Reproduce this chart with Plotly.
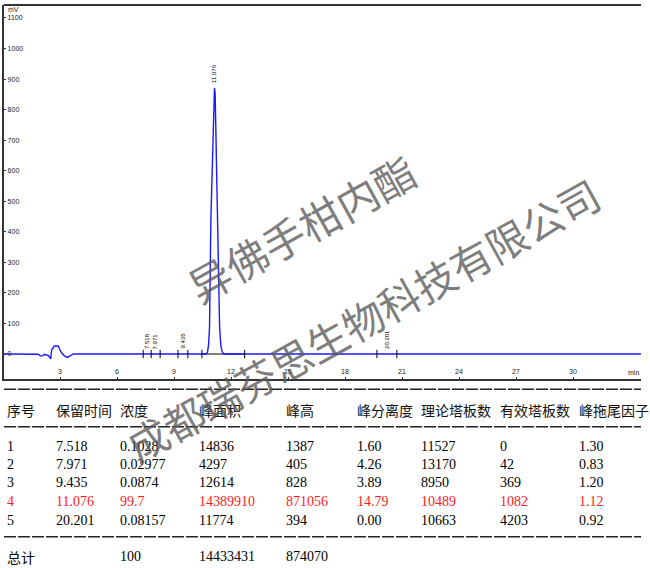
import plotly.graph_objects as go

# ---------------- data ----------------
# chromatogram trace (time in min, signal in mV)
sig_t = [0.0, 1.70, 1.86, 1.95, 2.09, 2.18, 2.39, 2.51, 2.56, 2.70, 2.91, 2.96, 3.09, 3.23, 3.39, 3.53, 3.70,
         10.70, 10.76, 10.82, 10.87, 10.94, 11.03, 11.095, 11.13, 11.165, 11.235, 11.325, 11.40, 11.46, 11.53, 11.62,
         33.6]
sig_mv = [0, 0, -1, -6, -6, -1, -5, -16, 13, 26, 26, 18, 3, -6, -11, -6, 0,
          0, 5, 30, 89, 439, 635, 853, 871, 853, 635, 439, 89, 30, 8, 0,
          0]

# integration marks on the baseline (min)
mark_t = [7.38, 7.80, 8.27, 9.21, 9.73, 10.47, 12.72, 19.68, 20.73]
# integration baseline under the main peak (min)
base_seg_t = [10.47, 12.72]

# peak labels: retention time text, position (min), apex (mV)
peak_lbl = ["7.518", "7.971", "9.435", "11.076", "20.201"]
peak_lbl_t = [7.58, 8.02, 9.45, 11.13, 20.18]
peak_lbl_mv = [0, 0, 0, 871, 0]

x_ticks = [3, 6, 9, 12, 15, 18, 21, 24, 27, 30]
y_ticks = [0, 100, 200, 300, 400, 500, 600, 700, 800, 900, 1000, 1100]

# result table
headers = ["序号", "保留时间", "浓度", "峰面积", "峰高", "峰分离度", "理论塔板数", "有效塔板数", "峰拖尾因子"]
peak_no = ["1", "2", "3", "4", "5"]
ret_time = ["7.518", "7.971", "9.435", "11.076", "20.201"]
conc = ["0.1028", "0.02977", "0.0874", "99.7", "0.08157"]
area = ["14836", "4297", "12614", "14389910", "11774"]
height = ["1387", "405", "828", "871056", "394"]
resolution = ["1.60", "4.26", "3.89", "14.79", "0.00"]
plates = ["11527", "13170", "8950", "10489", "10663"]
eff_plates = ["0", "42", "369", "1082", "4203"]
tailing = ["1.30", "0.83", "1.20", "1.12", "0.92"]
totals = ["总计", "", "100", "14433431", "874070"]
highlight_row = 3  # 0-based index of the red row

watermark1 = "异佛手柑内酯"
watermark2 = "成都瑞芬思生物科技有限公司"

# ---------------- layout helpers ----------------
W, H = 650, 568
def px(x):
    return x / W
def py(y):
    return 1 - y / H

PL, PR, PT, PB = 4, 641, 5, 379  # plot frame in pixels
AX = "#333333"

fig = go.Figure()

# integration baseline (black) under the blue trace
fig.add_trace(go.Scatter(x=base_seg_t, y=[0, 0], mode="lines",
                         line=dict(color="black", width=1.2), hoverinfo="skip"))
# chromatogram
fig.add_trace(go.Scatter(x=sig_t, y=sig_mv, mode="lines",
                         line=dict(color="#1a1aff", width=1.4), hoverinfo="skip"))
# integration marks
fig.add_trace(go.Scatter(x=mark_t, y=[0] * len(mark_t), mode="markers",
                         marker=dict(symbol="line-ns", size=6,
                                     line=dict(color="black", width=1)),
                         hoverinfo="skip"))

annotations = []
for lbl, t, mv in zip(peak_lbl, peak_lbl_t, peak_lbl_mv):
    annotations.append(dict(x=t, y=mv, xref="x", yref="y", text=lbl, showarrow=False,
                            textangle=-90, xanchor="center", yanchor="bottom", yshift=3,
                            font=dict(size=6, color="black", family="Liberation Sans")))

annotations.append(dict(x=px(6), y=py(9), xref="paper", yref="paper", text="mV",
                        showarrow=False, xanchor="left", yanchor="middle",
                        font=dict(size=7, color="#222", family="Liberation Sans")))
annotations.append(dict(x=px(633), y=py(372), xref="paper", yref="paper", text="min",
                        showarrow=False, xanchor="center", yanchor="middle",
                        font=dict(size=7, color="#222", family="Liberation Sans")))

# table
col_x = [5, 54, 118, 197.5, 283.5, 355, 419, 498, 577]
row_y = [446, 464.3, 482.3, 501.7, 520]
header_y = 410
total_y = 556.7
TFONT = "Liberation Serif, Noto Sans CJK SC"

def cell(x, y, text, color="black", family=TFONT, size=14):
    annotations.append(dict(x=px(x), y=py(y), xref="paper", yref="paper", text=text,
                            showarrow=False, xanchor="left", yanchor="middle",
                            font=dict(size=size, color=color, family=family)))

for cx, h in zip(col_x, headers):
    cell(cx, header_y, h, color="#111", family="Noto Sans CJK SC", size=14)

cols = [peak_no, ret_time, conc, area, height, resolution, plates, eff_plates, tailing]
for r in range(len(peak_no)):
    color = "#ff1a1a" if r == highlight_row else "black"
    for cx, col in zip(col_x, cols):
        cell(cx, row_y[r], col[r], color=color)

tot_cols = [0, 1, 2, 3, 4]
for ci, txt in zip(tot_cols, totals):
    if txt:
        fam = "Noto Sans CJK SC" if ci == 0 else TFONT
        cell(col_x[ci], total_y, txt, family=fam)

# watermarks
annotations.append(dict(x=px(301), y=py(227), xref="paper", yref="paper", text=watermark1,
                        showarrow=False, textangle=-29, xanchor="center", yanchor="middle",
                        font=dict(size=42, color="rgba(90,90,90,0.78)", family="Noto Sans CJK SC")))
annotations.append(dict(x=px(362), y=py(319), xref="paper", yref="paper", text=watermark2,
                        showarrow=False, textangle=-29, xanchor="center", yanchor="middle",
                        font=dict(size=41, color="rgba(90,90,90,0.78)", family="Noto Sans CJK SC")))

shapes = [
    dict(type="line", xref="paper", yref="paper", x0=px(PL), x1=px(PR), y0=py(PT), y1=py(PT),
         line=dict(color=AX, width=2)),
]
for y in [389.3, 426.7, 536.7]:
    shapes.append(dict(type="line", xref="paper", yref="paper", x0=px(PL), x1=px(PR),
                       y0=py(y), y1=py(y), line=dict(color="#222", width=1.6, dash="12px,2px")))

fig.update_layout(
    width=W, height=H, margin=dict(l=0, r=0, t=0, b=0),
    paper_bgcolor="white", plot_bgcolor="white", showlegend=False,
    xaxis=dict(domain=[px(PL), px(PR)], range=[(PL - 3) / 19.0, (PR - 3) / 19.0],
               showline=True, linecolor=AX, linewidth=2, mirror=False,
               ticks="inside", ticklen=2, tickcolor=AX, tickvals=x_ticks,
               ticklabelposition="inside", tickfont=dict(size=7, color="#222", family="Liberation Sans"),
               showgrid=False, zeroline=False),
    yaxis=dict(domain=[py(PB), py(PT)], range=[(354 - PB) / 0.3055, (354 - PT) / 0.3055],
               showline=True, linecolor=AX, linewidth=2, mirror=False,
               ticks="inside", ticklen=2, tickcolor=AX, tickvals=y_ticks,
               ticklabelposition="inside", tickfont=dict(size=7, color="#222", family="Liberation Sans"),
               showgrid=False, zeroline=False),
    annotations=annotations, shapes=shapes,
)

fig.write_html("out.html", config={"displayModeBar": False},
               post_script="document.body.style.margin='0';document.body.style.overflow='hidden';")
